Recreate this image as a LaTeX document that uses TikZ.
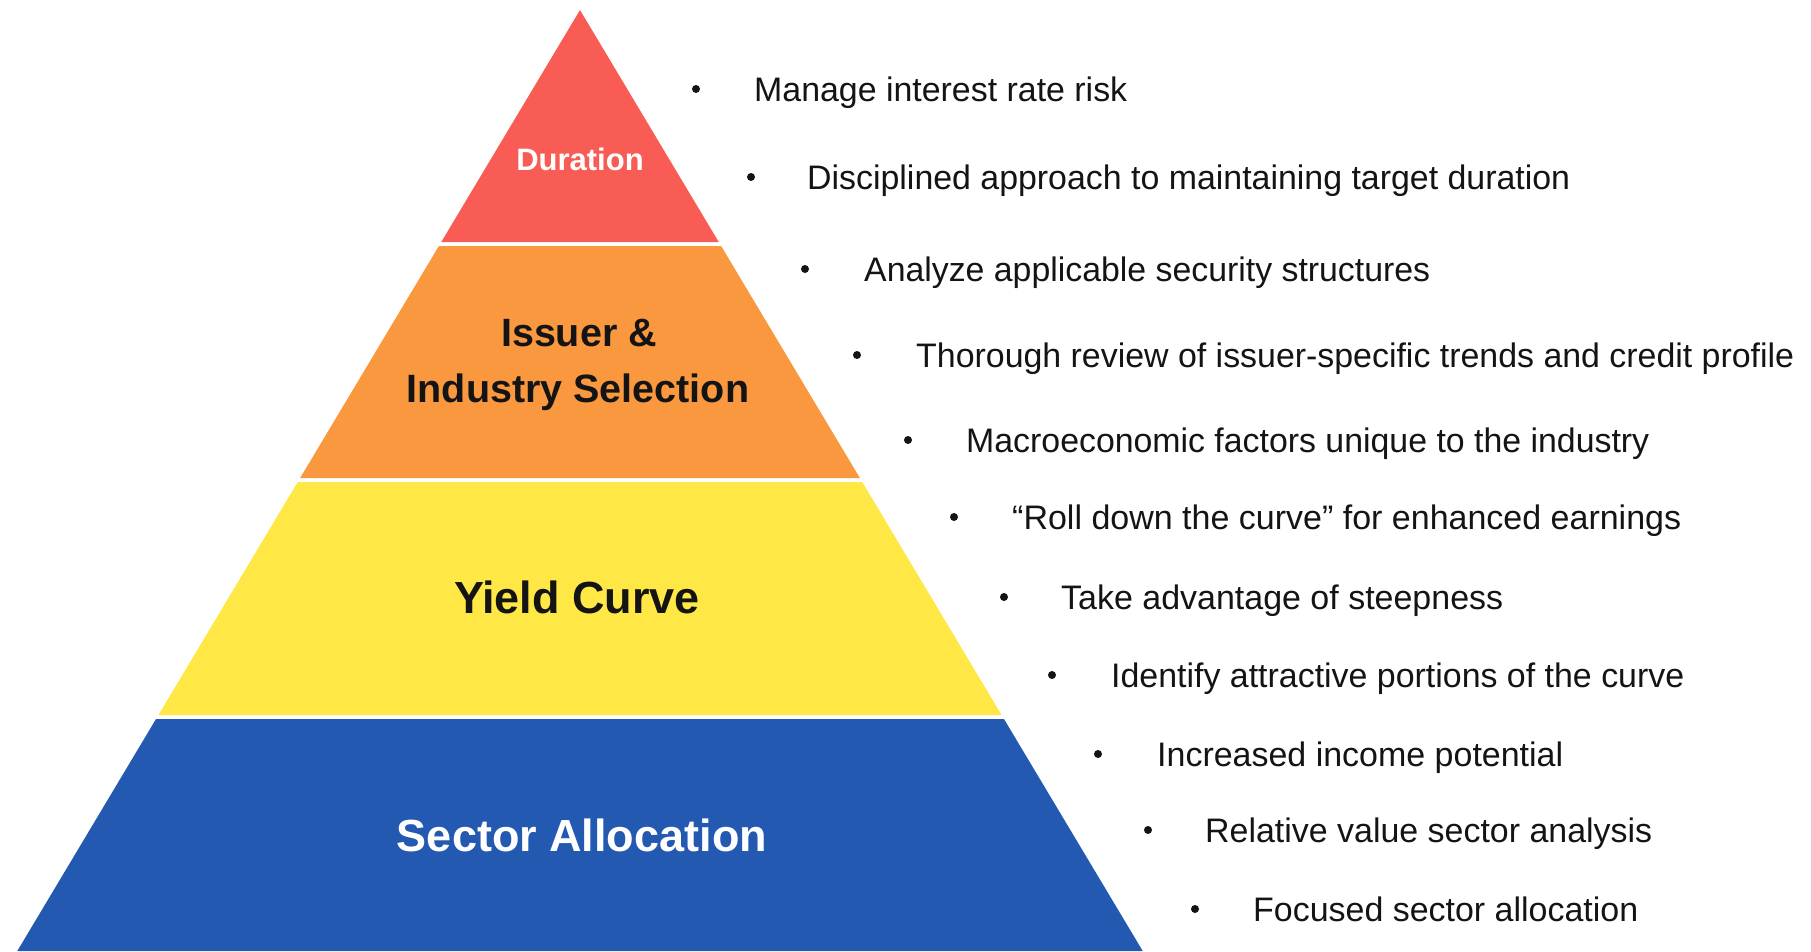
\documentclass[tikz,border=0pt]{standalone}
\usepackage{fontspec}
\setmainfont{Liberation Sans}
\usepackage{graphicx}
\definecolor{cred}{RGB}{248,92,84}
\definecolor{corange}{RGB}{249,152,62}
\definecolor{cyellow}{RGB}{255,232,70}
\definecolor{cblue}{RGB}{36,89,178}
\definecolor{ctext}{RGB}{20,20,20}
\tikzset{
  band/.style={draw=none},
  biglabel/.style={anchor=base, inner sep=0pt, font=\bfseries},
  bullet/.style={circle, fill=ctext, inner sep=0pt, minimum size=8pt},
  itemtext/.style={anchor=base west, inner sep=0pt, text=ctext, font=\fontsize{34}{40}\selectfont},
}
\newcommand{\fitw}[2]{\resizebox{#1pt}{\height}{#2}}
\begin{document}
\begin{tikzpicture}[x=1pt,y=-1pt]
\useasboundingbox (0,0) rectangle (1811,951);
\def\ax{580}\def\ay{10}\def\sl{0.598}
% bands
\fill[cred] (\ax,\ay) -- ({\ax+\sl*(242-\ay)},242) -- ({\ax-\sl*(242-\ay)},242) -- cycle;
\fill[corange] ({\ax-\sl*(246-\ay)},246) -- ({\ax+\sl*(246-\ay)},246) -- ({\ax+\sl*(478-\ay)},478) -- ({\ax-\sl*(478-\ay)},478) -- cycle;
\fill[cyellow] ({\ax-\sl*(482-\ay)},482) -- ({\ax+\sl*(482-\ay)},482) -- ({\ax+\sl*(715-\ay)},715) -- ({\ax-\sl*(715-\ay)},715) -- cycle;
\fill[cblue] ({\ax-\sl*(719-\ay)},719) -- ({\ax+\sl*(719-\ay)},719) -- ({\ax+\sl*(951-\ay)},951) -- ({\ax-\sl*(951-\ay)},951) -- cycle;
% labels
\node[biglabel, text=white, font=\bfseries\fontsize{31}{36}\selectfont] (dur) at (580,170) {Duration};
\node[biglabel, text=ctext, font=\bfseries\fontsize{39.5}{46}\selectfont] (iss1) at (579,346) {Issuer \&};
\node[biglabel, text=ctext, font=\bfseries\fontsize{39.5}{46}\selectfont] (iss2) at (578,402) {Industry Selection};
\node[biglabel, text=ctext, font=\bfseries\fontsize{45}{52}\selectfont] (yc) at (577,613) {Yield Curve};
\node[biglabel, text=white, font=\bfseries\fontsize{45}{52}\selectfont] (sa) at (582,851) {Sector Allocation};
% bullets
\node[bullet] (b1) at (696,89) {};
\node[bullet] (b2) at (751,177) {};
\node[bullet] (b3) at (805,269) {};
\node[bullet] (b4) at (857,355) {};
\node[bullet] (b5) at (908,440) {};
\node[bullet] (b6) at (954,517) {};
\node[bullet] (b7) at (1004,597) {};
\node[bullet] (b8) at (1052,675) {};
\node[bullet] (b9) at (1098,754) {};
\node[bullet] (b10) at (1148,830) {};
\node[bullet] (b11) at (1195,909) {};
% texts
\node[itemtext] (t1) at (754,101) {\fitw{373}{Manage interest rate risk}};
\node[itemtext] (t2) at (807,189) {\fitw{763}{Disciplined approach to maintaining target duration}};
\node[itemtext] (t3) at (864,281) {\fitw{566}{Analyze applicable security structures}};
\node[itemtext] (t4) at (916,367) {\fitw{878}{Thorough review of issuer-specific trends and credit profile}};
\node[itemtext] (t5) at (966,452) {\fitw{683}{Macroeconomic factors unique to the industry}};
\node[itemtext] (t6) at (1012,529) {\fitw{669}{“Roll down the curve” for enhanced earnings}};
\node[itemtext] (t7) at (1061,609) {\fitw{442}{Take advantage of steepness}};
\node[itemtext] (t8) at (1111,687) {\fitw{573}{Identify attractive portions of the curve}};
\node[itemtext] (t9) at (1157,766) {\fitw{406}{Increased income potential}};
\node[itemtext] (t10) at (1205,842) {\fitw{447}{Relative value sector analysis}};
\node[itemtext] (t11) at (1253,921) {\fitw{385}{Focused sector allocation}};
\end{tikzpicture}
\end{document}
